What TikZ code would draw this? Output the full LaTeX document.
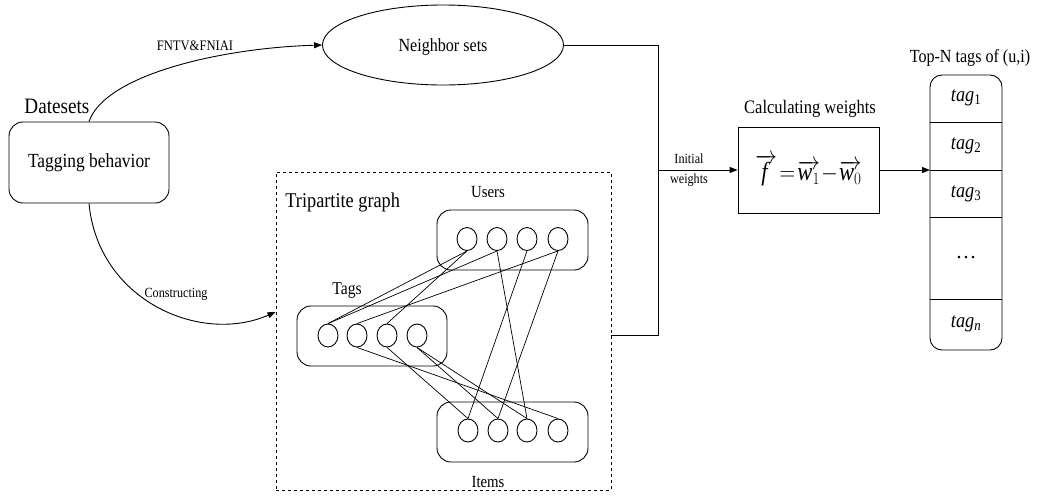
\documentclass[tikz,border=0pt]{standalone}
\usepackage{fontspec}
\setmainfont{Liberation Serif}
\usetikzlibrary{arrows.meta,shapes.geometric}
\newcommand\fsz[1]{\fontsize{#1}{#1}\selectfont}
\newcommand\nar[1]{\scalebox{0.87}[1]{#1}}
\begin{document}
\begin{tikzpicture}[x=1pt,y=-1pt,line width=0.9pt,
  lbl/.style={inner sep=0pt,anchor=base},
  rbox/.style={draw,rounded corners=14pt,inner sep=0pt},
  sq/.style={draw,inner sep=0pt},
  dot/.style={draw,ellipse,minimum width=20pt,minimum height=23pt,inner sep=0pt},
  arr/.style={-{Triangle[length=8pt,width=6pt]}},
  thin/.style={line width=0.7pt}]
\useasboundingbox (0,0) rectangle (1040,501);

% Datasets
\node[lbl,anchor=base west] (ds) at (24,113) {\fsz{22}\nar{Datesets}};
\node[rbox,minimum width=160pt,minimum height=81pt] (tb) at (89,162.5) {\fsz{20}\nar{Tagging behavior}};

% Neighbor sets
\node[draw,ellipse,minimum width=241pt,minimum height=80pt,inner sep=0pt] (ns) at (443,45) {};
\node[lbl] (nst) at (443,51) {\fsz{18.5}\nar{Neighbor sets}};

% Tripartite graph
\node[draw,dashed,minimum width=335pt,minimum height=318pt,inner sep=0pt] (tp) at (443.5,331) {};
\node[lbl,anchor=base west] (tpt) at (285,207) {\fsz{21}\nar{Tripartite graph}};

\node[rbox,minimum width=151pt,minimum height=60pt] (ub) at (512.5,240) {};
\node[rbox,minimum width=150pt,minimum height=60pt] (gb) at (372,336) {};
\node[rbox,minimum width=151pt,minimum height=60pt] (ib) at (512.5,432) {};
\node[lbl] (ul) at (488,197) {\fsz{17}\nar{Users}};
\node[lbl] (gl) at (347,294) {\fsz{18}\nar{Tags}};
\node[lbl] (il) at (488,487) {\fsz{17}\nar{Items}};

\node[dot] (u1) at (467,239) {};
\node[dot] (u2) at (497,239) {};
\node[dot] (u3) at (527,239) {};
\node[dot] (u4) at (558,239) {};
\node[dot] (t1) at (328,335.5) {};
\node[dot] (t2) at (357,335.5) {};
\node[dot] (t3) at (387,335.5) {};
\node[dot] (t4) at (417,335.5) {};
\node[dot] (i1) at (468,430.5) {};
\node[dot] (i2) at (498,430.5) {};
\node[dot] (i3) at (527,430.5) {};
\node[dot] (i4) at (558,430.5) {};

\begin{scope}[thin]
\draw (t1.north) -- (u1.south);
\draw (t1.north) -- (u2.south);
\draw (t3.north) -- (u1.south);
\draw (t2.north) -- (u4.south);
\draw (u2.south) -- (i3.north);
\draw (u3.south) -- (i1.north);
\draw (u4.south) -- (i2.north);
\draw (t2.south) -- (i4.north);
\draw (t3.south) -- (i1.north);
\draw (t4.south) -- (i2.north);
\draw (t4.south) -- (i3.north);
\end{scope}

% curved arrows
\draw[arr] (tb.north) .. controls (105,75) and (220,48) .. (ns.west);
\node[lbl] (flt) at (195,50) {\fsz{14.5}\nar{FNTV\&FNIAI}};
\draw[arr] (tb.south) .. controls (98,300) and (200,345) .. (tp.west |- 0,312);
\node[lbl] (cl) at (176,297) {\fsz{14}\nar{Constructing}};

% joining line
\coordinate (j) at (658,170);
\coordinate (tpo) at (611,335);
\draw (ns.east) -| (j);
\draw (tpo) -| (j);

% calculating weights
\node[sq,minimum width=141pt,minimum height=86pt] (cw) at (808.5,170)
  {\fsz{26}\nar{$\overrightarrow{\textit{f}\,}\!=\!\overrightarrow{\textit{w}_{1}}\!-\!\overrightarrow{\textit{w}_{0}}$}};
\node[lbl] (cwl) at (810,113) {\fsz{19}\nar{Calculating weights}};
\draw[arr] (j) -- (cw.west);
\node[lbl] (iw1) at (689,163) {\fsz{14}\nar{Initial}};
\node[lbl] (iw2) at (689,183) {\fsz{14}\nar{weights}};

% stack
\node[draw,rounded corners=12pt,minimum width=72pt,minimum height=275pt,inner sep=0pt] (st) at (966,212.5) {};
\foreach \yy in {122,170,217,299} \draw (st.west |- 0,\yy) -- (st.east |- 0,\yy);
\node[lbl] (topn) at (970,62) {\fsz{18.5}\nar{Top-N tags of (u,i)}};
\node (s1) at (966,98) {\fsz{21}\nar{\textit{tag}\textsubscript{1}}};
\node (s2) at (966,146) {\fsz{21}\nar{\textit{tag}\textsubscript{2}}};
\node (s3) at (966,194) {\fsz{21}\nar{\textit{tag}\textsubscript{3}}};
\node (s4) at (966,258) {\fsz{21}\dots};
\node (s5) at (966,324) {\fsz{21}\nar{\textit{tag}\textsubscript{\textit{n}}}};
\coordinate (sin) at (930,170);
\draw[arr] (cw.east) -- (sin);
\end{tikzpicture}
\end{document}
